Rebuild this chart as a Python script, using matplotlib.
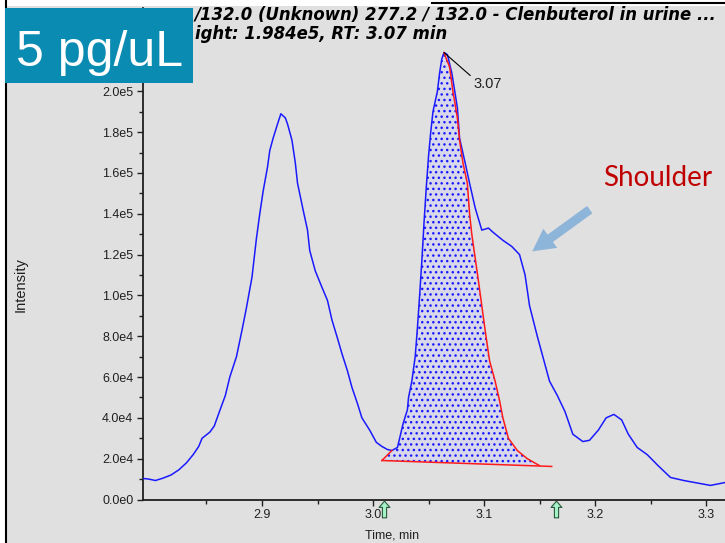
import numpy as np
import matplotlib
matplotlib.use("Agg")
import matplotlib.pyplot as plt
from matplotlib.path import Path
from matplotlib.patches import Rectangle, FancyArrowPatch
from matplotlib.ticker import FixedLocator, FuncFormatter
from matplotlib.transforms import IdentityTransform, blended_transform_factory

W, H = 725, 543

# ---- chromatogram trace (time in min, intensity in cps) ----
trace_t = [2.793, 2.798, 2.804, 2.811, 2.818, 2.825, 2.832, 2.838, 2.843, 2.846,
           2.853, 2.857, 2.862, 2.867, 2.871, 2.877, 2.882, 2.886, 2.891, 2.895,
           2.898, 2.901, 2.905, 2.907, 2.910, 2.914, 2.917, 2.921, 2.923, 2.927,
           2.930, 2.932, 2.937, 2.941, 2.943, 2.948, 2.954, 2.959, 2.963, 2.968,
           2.972, 2.977, 2.981, 2.986, 2.990, 2.997, 3.003, 3.008, 3.013, 3.017,
           3.022, 3.024, 3.027, 3.031, 3.032, 3.035, 3.038, 3.040, 3.042, 3.044,
           3.046, 3.048, 3.050, 3.052, 3.054, 3.058, 3.060, 3.062, 3.064, 3.067,
           3.071, 3.076, 3.078, 3.083, 3.087, 3.092, 3.098, 3.104, 3.108, 3.117,
           3.125, 3.132, 3.137, 3.141, 3.148, 3.153, 3.159, 3.166, 3.173, 3.180,
           3.189, 3.195, 3.203, 3.210, 3.217, 3.224, 3.230, 3.238, 3.247, 3.257,
           3.268, 3.280, 3.295, 3.304, 3.317]
trace_i = [1.03e4, 1.0e4, 9.3e3, 1.05e4, 1.2e4, 1.45e4, 1.8e4, 2.2e4, 2.6e4, 3.0e4,
           3.3e4, 3.6e4, 4.36e4, 5.1e4, 6.0e4, 7.0e4, 8.3e4, 9.4e4, 1.09e5, 1.28e5,
           1.40e5, 1.51e5, 1.63e5, 1.71e5, 1.77e5, 1.84e5, 1.89e5, 1.87e5, 1.84e5, 1.76e5,
           1.65e5, 1.55e5, 1.42e5, 1.32e5, 1.22e5, 1.12e5, 1.04e5, 9.75e4, 8.8e4, 7.9e4,
           7.15e4, 6.3e4, 5.5e4, 4.7e4, 4.0e4, 3.4e4, 2.8e4, 2.6e4, 2.45e4, 2.4e4,
           2.55e4, 3.0e4, 3.7e4, 4.4e4, 5.0e4, 5.8e4, 7.0e4, 8.4e4, 1.0e5, 1.17e5,
           1.36e5, 1.53e5, 1.68e5, 1.8e5, 1.9e5, 2.0e5, 2.09e5, 2.16e5, 2.19e5, 2.18e5,
           2.09e5, 1.92e5, 1.77e5, 1.65e5, 1.55e5, 1.43e5, 1.32e5, 1.33e5, 1.31e5, 1.27e5,
           1.24e5, 1.2e5, 1.1e5, 9.5e4, 8.0e4, 7.0e4, 5.8e4, 5.1e4, 4.3e4, 3.2e4,
           2.84e4, 2.9e4, 3.4e4, 4.0e4, 4.17e4, 3.9e4, 3.2e4, 2.55e4, 2.2e4, 1.65e4,
           1.08e4, 9.3e3, 7.8e3, 6.9e3, 8.3e3]

# ---- integrated peak: fitted trailing edge and baseline ----
tail_t = [3.064, 3.066, 3.069, 3.072, 3.076, 3.078, 3.081, 3.085, 3.087, 3.089,
          3.095, 3.101, 3.105, 3.110, 3.114, 3.117, 3.122, 3.130, 3.139, 3.150]
tail_i = [2.19e5, 2.16e5, 2.12e5, 2.0e5, 1.87e5, 1.76e5, 1.65e5, 1.55e5, 1.40e5, 1.30e5,
          1.07e5, 8.3e4, 6.8e4, 5.8e4, 4.85e4, 4.0e4, 3.0e4, 2.4e4, 2.0e4, 1.66e4]
baseline_t = [3.008, 3.161]
baseline_i = [1.91e4, 1.62e4]
peak_start = 3.017          # where the integration joins the trace
peak_apex_t, peak_apex_i = 3.064, 2.19e5
peak_rt_label = "3.07"
marker_times = [3.010, 3.165]

y_major = [0, 2e4, 4e4, 6e4, 8e4, 1e5, 1.2e5, 1.4e5, 1.6e5, 1.8e5, 2e5]
x_major = [2.9, 3.0, 3.1, 3.2, 3.3]
x_minor = [2.85, 2.95, 3.05, 3.15, 3.25]

header_1 = "/132.0 (Unknown) 277.2 / 132.0 - Clenbuterol in urine ..."
header_2 = "ight: 1.984e5, RT: 3.07 min"
badge_text = "5 pg/uL"
note_text = "Shoulder"

GRAY = "#e0e0e0"
BLUE = "#1a1aff"
RED = "#ff1a1a"


def fx(x):
    return x / W


def fy(y):
    return 1 - y / H


fig = plt.figure(figsize=(W / 100, H / 100), dpi=100, facecolor="white")

# window background and frame
fig.add_artist(Rectangle((fx(6), 0), 1 - fx(6), fy(6), transform=fig.transFigure,
                         facecolor=GRAY, edgecolor="none", zorder=-5))
fig.add_artist(plt.Line2D([fx(6), fx(6)], [0, 1], transform=fig.transFigure,
                          color="black", lw=1.5, zorder=-4))
fig.add_artist(plt.Line2D([fx(432), 1], [fy(3), fy(3)], transform=fig.transFigure,
                          color="black", lw=1.5, zorder=-4))

ax_bottom_px = 499.5
ax_top_px = 8
ax = fig.add_axes([fx(143), fy(ax_bottom_px), 1 - fx(143), (ax_bottom_px - ax_top_px) / H])
ax.set_zorder(2)
ax.set_facecolor("none")
ax.set_xlim(2.7928, 3.3171)
ax.set_ylim(0, (ax_bottom_px - ax_top_px) * 490)

for s in ("top", "right"):
    ax.spines[s].set_visible(False)
for s in ("left", "bottom"):
    ax.spines[s].set_linewidth(1.3)
    ax.spines[s].set_color("#202020")

ax.xaxis.set_major_locator(FixedLocator(x_major))
ax.xaxis.set_minor_locator(FixedLocator(x_minor))
ax.yaxis.set_major_locator(FixedLocator(y_major))
ax.yaxis.set_minor_locator(FixedLocator(np.arange(1e4, 2.3e5, 2e4)))


def sci(v, pos=None):
    if v == 0:
        return "0.0e0"
    e = int(np.floor(np.log10(v) + 1e-9))
    return f"{v / 10 ** e:.1f}e{e}"


ax.yaxis.set_major_formatter(FuncFormatter(sci))
ax.xaxis.set_major_formatter(FuncFormatter(lambda v, p: f"{v:.1f}"))
ax.tick_params(which="major", length=4, width=1, color="#202020",
               labelsize=9, pad=3)
ax.tick_params(which="minor", length=3, width=1, color="#202020")
for lab in ax.get_xticklabels() + ax.get_yticklabels():
    lab.set_fontfamily("Liberation Sans")
    lab.set_color("#202020")

# shaded integration region
tt = np.array(trace_t)
ti = np.array(trace_i)
lead = (tt >= peak_start) & (tt <= peak_apex_t)
poly_t = [baseline_t[0]] + list(tt[lead]) + tail_t[1:] + [baseline_t[0]]
poly_i = [baseline_i[0]] + list(ti[lead]) + tail_i[1:] + [baseline_i[0]]
ax.fill(poly_t, poly_i, facecolor="#d8d8ea", edgecolor=BLUE, linewidth=0,
        hatch="...", zorder=2)

ax.plot(trace_t, trace_i, color=BLUE, lw=1.1, zorder=3)
ax.plot([baseline_t[0], peak_start], [baseline_i[0], ti[tt == peak_start][0]],
        color=RED, lw=1.1, zorder=4)
ax.plot(tail_t, tail_i, color=RED, lw=1.1, zorder=4)
ax.plot(baseline_t, baseline_i, color=RED, lw=1.1, zorder=4)

# retention time callout
ax.annotate(peak_rt_label, xy=(peak_apex_t, peak_apex_i), xytext=(29, -31),
            textcoords="offset pixels", ha="left", va="center", fontsize=10.5,
            family="Liberation Sans", color="#202020",
            arrowprops=dict(arrowstyle="-", color="black", lw=0.8,
                            shrinkA=0, shrinkB=0, relpos=(0, 0.9)), zorder=5)

# integration start/end markers below the axis
arrow_marker = Path([(0, 1), (0.65, 0.25), (0.25, 0.25), (0.25, -1), (-0.25, -1),
                     (-0.25, 0.25), (-0.65, 0.25), (0, 1)])
btrans = blended_transform_factory(ax.transData, ax.transAxes)
ax.plot(marker_times, [-9.5 / (ax_bottom_px - ax_top_px)] * len(marker_times),
        linestyle="none", marker=arrow_marker, markersize=12,
        markerfacecolor="#a6f2c8", markeredgecolor="#2a5a3a", markeredgewidth=0.8,
        transform=btrans, clip_on=False, zorder=6)

# axis titles
fig.text(fx(392), fy(535), "Time, min", ha="center", va="center", fontsize=9,
         family="Liberation Sans", color="#202020")
fig.text(fx(21), fy(285), "Intensity", ha="center", va="center", fontsize=10.5,
         rotation=90, family="Liberation Sans", color="#202020")

# header
hdr = dict(ha="left", va="center", fontsize=11.9, fontweight="bold",
           fontstyle="italic", family="DejaVu Sans", color="black", zorder=3)
fig.text(fx(195), fy(15), header_1, **hdr)
fig.text(fx(195), fy(34), header_2, **hdr)

# concentration badge
fig.add_artist(Rectangle((fx(5), fy(83)), fx(193) - fx(5), fy(8) - fy(83),
                         transform=fig.transFigure, facecolor="#0a8bb2",
                         edgecolor="none", zorder=10))
fig.text(fx(100), fy(66), badge_text, ha="center", va="baseline", fontsize=36,
         family="Liberation Sans", color="white", zorder=11)

# shoulder annotation
fig.text(fx(603), fy(186), note_text, ha="left", va="baseline", fontsize=20,
         family="Lato", color="#c00000", zorder=9)
fig.add_artist(FancyArrowPatch((592, H - 208), (530, H - 253),
                               transform=IdentityTransform(),
                               arrowstyle="simple,head_length=1.6,head_width=1.7,tail_width=0.65",
                               mutation_scale=10, color="#8db4d9", lw=0, zorder=9))

fig.savefig("out.png", dpi=100, facecolor=fig.get_facecolor())
